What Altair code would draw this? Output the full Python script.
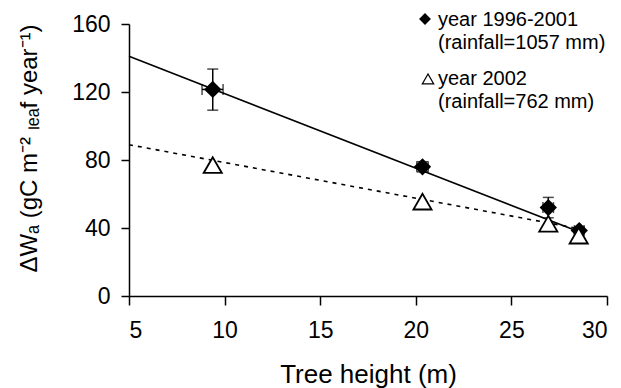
import altair as alt
import pandas as pd

# ---- data ----
height_1996 = [9.38, 20.35, 26.93, 28.55]
wa_1996 = [121.5, 76.0, 52.0, 38.5]
wa_1996_lo = [109.3, 73.0, 46.0, 36.5]
wa_1996_hi = [133.5, 79.0, 58.0, 40.5]
height_lo = [8.82, 20.05, 26.65, 28.3]
height_hi = [9.92, 20.65, 27.2, 28.8]

height_2002 = [9.38, 20.35, 26.93, 28.52]
wa_2002 = [77.0, 55.5, 42.5, 35.5]

fit_x = [5.0, 28.6]
fit_1996 = [141.0, 37.5]
fit_2002 = [89.0, 39.5]

x_ticks = [5, 10, 15, 20, 25, 30]
y_ticks = [0, 40, 80, 120, 160]

legend_1996 = "year 1996-2001\n(rainfall=1057 mm)"
legend_2002 = "year 2002\n(rainfall=762 mm)"

FONT = "Liberation Sans"

d96 = pd.DataFrame({
    "h": height_1996, "wa": wa_1996, "lo": wa_1996_lo, "hi": wa_1996_hi,
    "hlo": height_lo, "hhi": height_hi,
})
d02 = pd.DataFrame({"h": height_2002, "wa": wa_2002})
fit96 = pd.DataFrame({"h": fit_x, "wa": fit_1996})
fit02 = pd.DataFrame({"h": fit_x, "wa": fit_2002})

xscale = alt.Scale(domain=[5, 30], nice=False, zero=False)
yscale = alt.Scale(domain=[0, 160], nice=False)

x_axis = alt.Axis(
    values=x_ticks, format="d", labelFontSize=23, labelFont=FONT, labelColor="black",
    labelPadding=14, tickSize=9, tickColor="black", tickWidth=1.5,
    domainColor="black", domainWidth=1.5, grid=False,
    title="Tree height (m)", titleFont=FONT, titleFontSize=26, titleFontWeight="normal",
    titleColor="black", titleBaseline="alphabetic", titleY=86,
)
y_axis = alt.Axis(
    values=y_ticks, format="d", labelFontSize=23, labelFont=FONT, labelColor="black",
    labelPadding=11, tickSize=8, tickColor="black", tickWidth=1.5,
    domainColor="black", domainWidth=1.5, grid=False,
    title="ΔWₐ (gC m⁻² ₗₑₐf year⁻¹)", titleFont=FONT, titleFontSize=24,
    titleFontWeight="normal", titleColor="black", titleAngle=270,
    titleBaseline="alphabetic", titleAlign="center", titleX=-93, titleY=124,
)

X = alt.X("h:Q", scale=xscale, axis=x_axis)
Y = alt.Y("wa:Q", scale=yscale, axis=y_axis)

line96 = alt.Chart(fit96).mark_line(color="black", strokeWidth=1.6).encode(x=X, y=Y)
line02 = alt.Chart(fit02).mark_line(color="black", strokeWidth=1.6, strokeDash=[4, 5]).encode(x=X, y=Y)

base96 = alt.Chart(d96)
err_v = base96.mark_rule(color="black", strokeWidth=1.5).encode(
    x=alt.X("h:Q", scale=xscale), y=alt.Y("lo:Q", scale=yscale), y2="hi:Q")
cap_lo = base96.mark_tick(orient="horizontal", color="black", size=11, thickness=1.5).encode(
    x=alt.X("h:Q", scale=xscale), y=alt.Y("lo:Q", scale=yscale))
cap_hi = base96.mark_tick(orient="horizontal", color="black", size=11, thickness=1.5).encode(
    x=alt.X("h:Q", scale=xscale), y=alt.Y("hi:Q", scale=yscale))
err_h = base96.mark_rule(color="black", strokeWidth=1.5).encode(
    x=alt.X("hlo:Q", scale=xscale), x2="hhi:Q", y=alt.Y("wa:Q", scale=yscale))
cap_l = base96.mark_tick(orient="vertical", color="black", size=11, thickness=1.5).encode(
    x=alt.X("hlo:Q", scale=xscale), y=alt.Y("wa:Q", scale=yscale))
cap_r = base96.mark_tick(orient="vertical", color="black", size=11, thickness=1.5).encode(
    x=alt.X("hhi:Q", scale=xscale), y=alt.Y("wa:Q", scale=yscale))

diamonds = base96.mark_point(shape="diamond", filled=True, color="black", size=300, opacity=1).encode(
    x=alt.X("h:Q", scale=xscale), y=alt.Y("wa:Q", scale=yscale))
triangles = alt.Chart(d02).mark_point(
    shape="triangle-up", filled=True, fill="white", stroke="black", strokeWidth=1.8,
    size=330, opacity=1).encode(
    x=alt.X("h:Q", scale=xscale), y=alt.Y("wa:Q", scale=yscale))

# ---- legend (upper right) ----
one = pd.DataFrame({"t": [0]})
leg_d = alt.Chart(one).mark_point(shape="diamond", filled=True, color="black", size=140, opacity=1).encode(
    x=alt.value(296), y=alt.value(-5))
leg_t = alt.Chart(one).mark_point(shape="triangle-up", filled=True, fill="white", stroke="black",
                                  strokeWidth=1.2, size=130, opacity=1).encode(
    x=alt.value(299), y=alt.value(55))


def leg_text(txt, yv):
    return alt.Chart(pd.DataFrame({"t": [txt]})).mark_text(
        align="left", baseline="alphabetic", fontSize=20, font=FONT, color="black",
        lineBreak="\n", lineHeight=23).encode(
        text="t:N", x=alt.value(309), y=alt.value(yv))


legend = [leg_d, leg_t, leg_text(legend_1996, 2), leg_text(legend_2002, 61)]

chart = alt.layer(
    line96, line02, err_v, cap_lo, cap_hi, err_h, cap_l, cap_r, diamonds, triangles, *legend
).properties(
    width=478, height=272,
    autosize=alt.AutoSizeParams(type="none"),
    padding={"left": 121, "top": 16, "right": 6, "bottom": 92},
    background="white",
).configure_view(stroke=None)

chart.save("out.html", embed_options={"renderer": "svg", "actions": False})
